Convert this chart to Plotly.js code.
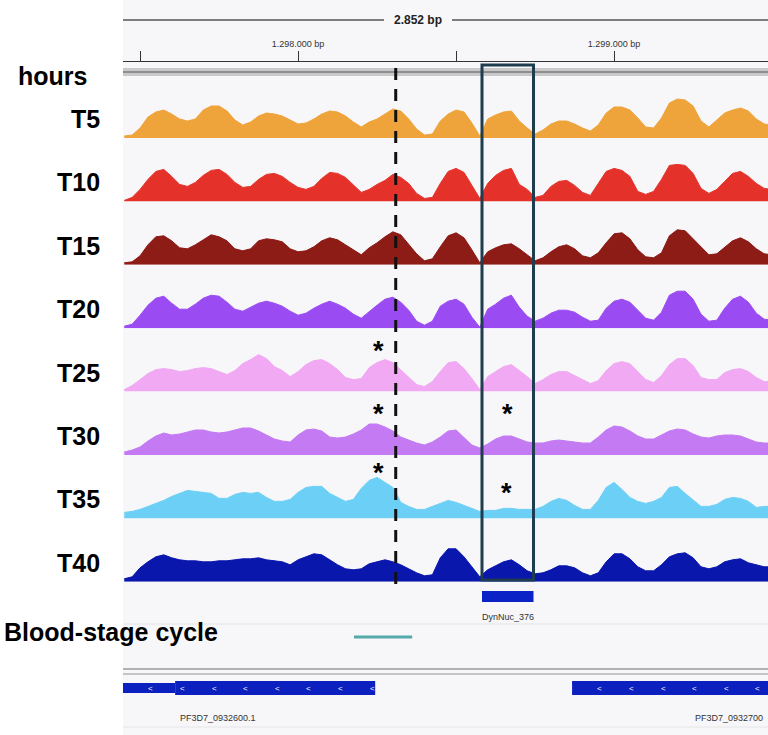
<!DOCTYPE html>
<html>
<head>
<meta charset="utf-8">
<script src="https://cdn.plot.ly/plotly-3.0.1.min.js"></script>
<style>
  html, body { margin: 0; padding: 0; background: #fff; }
  #chart { width: 768px; height: 735px; }
</style>
</head>
<body>
<div id="chart"></div>
<script>
/* Nucleosome occupancy tracks (IGV-style view), one filled profile per time point */

// bin positions along the chromosome (bp)
const positions = [
  1297450, 1297475, 1297500, 1297525, 1297550, 1297575, 1297600, 1297625, 1297650, 1297675,
  1297700, 1297725, 1297750, 1297775, 1297800, 1297825, 1297850, 1297875, 1297900, 1297925,
  1297950, 1297975, 1298000, 1298025, 1298050, 1298075, 1298100, 1298125, 1298150, 1298175,
  1298200, 1298225, 1298250, 1298275, 1298300, 1298325, 1298350, 1298375, 1298400, 1298425,
  1298450, 1298475, 1298500, 1298525, 1298550, 1298575, 1298600, 1298625, 1298650, 1298675,
  1298700, 1298725, 1298750, 1298775, 1298800, 1298825, 1298850, 1298875, 1298900, 1298925,
  1298950, 1298975, 1299000, 1299025, 1299050, 1299075, 1299100, 1299125, 1299150, 1299175,
  1299200, 1299225, 1299250, 1299275, 1299300, 1299325, 1299350, 1299375, 1299400, 1299425,
  1299450, 1299475, 1299500,
];

const trackNames = ["T5", "T10", "T15", "T20", "T25", "T30", "T35", "T40"];
const trackColors = ["#efa43b", "#e4312a", "#8d1b16", "#9a4cf2", "#f1a9f4", "#c47af2", "#6ccff6", "#0a17ad"];

const t5 = [2, 3, 10, 21, 26, 28, 24, 19, 17, 19, 28, 32, 32, 27, 18, 13, 16, 22, 25, 24,
  22, 18, 14, 15, 19, 24, 27, 26, 22, 16, 11, 16, 19, 24, 29, 27, 19, 9, 3, 4,
  17, 24, 28, 26, 15, 2, 19, 23, 26, 27, 17, 10, 4, 8, 14, 17, 17, 14, 10, 7,
  13, 25, 31, 31, 28, 20, 11, 10, 20, 35, 39, 38, 32, 17, 11, 18, 25, 28, 30, 27,
  19, 14, 13];
const t10 = [1, 4, 12, 22, 30, 32, 25, 17, 15, 19, 26, 31, 32, 27, 19, 14, 15, 22, 27, 28,
  25, 19, 14, 12, 15, 23, 29, 28, 24, 17, 9, 12, 17, 21, 27, 24, 18, 8, 3, 4,
  18, 30, 33, 29, 16, 3, 18, 26, 31, 33, 17, 12, 4, 6, 15, 20, 21, 16, 9, 6,
  18, 30, 33, 31, 25, 10, 7, 10, 22, 36, 37, 36, 28, 13, 8, 12, 20, 28, 30, 25,
  18, 13, 12];
const t15 = [2, 3, 9, 20, 28, 29, 24, 17, 16, 20, 25, 30, 28, 24, 16, 14, 16, 24, 26, 25,
  23, 16, 13, 14, 18, 24, 27, 25, 20, 15, 10, 17, 22, 28, 33, 30, 21, 11, 4, 6,
  18, 29, 32, 27, 15, 2, 13, 17, 20, 21, 16, 10, 4, 7, 13, 18, 20, 16, 9, 7,
  12, 22, 31, 32, 26, 15, 8, 7, 12, 29, 35, 34, 26, 17, 10, 11, 18, 24, 27, 23,
  16, 11, 10];
const t20 = [2, 4, 13, 23, 30, 32, 25, 19, 19, 24, 30, 33, 32, 26, 19, 17, 21, 25, 27, 25,
  22, 17, 13, 15, 20, 24, 27, 24, 20, 14, 10, 17, 23, 29, 31, 26, 18, 7, 3, 7,
  22, 27, 29, 24, 11, 1, 19, 24, 30, 33, 21, 12, 7, 10, 15, 18, 18, 16, 11, 7,
  8, 20, 27, 29, 26, 18, 10, 8, 16, 33, 37, 37, 29, 14, 7, 8, 20, 29, 32, 26,
  15, 9, 8];
const t25 = [2, 6, 12, 18, 22, 23, 22, 20, 21, 23, 24, 23, 20, 17, 21, 28, 32, 37, 33, 25,
  21, 15, 20, 27, 31, 32, 28, 22, 14, 12, 13, 24, 29, 32, 29, 22, 15, 7, 5, 10,
  20, 29, 30, 23, 13, 2, 15, 20, 25, 27, 21, 15, 8, 12, 17, 20, 20, 16, 12, 8,
  11, 21, 28, 30, 28, 20, 12, 9, 16, 27, 33, 33, 26, 14, 12, 12, 19, 22, 23, 20,
  14, 10, 10];
const t30 = [3, 5, 8, 14, 19, 22, 20, 21, 23, 25, 25, 23, 22, 23, 25, 27, 27, 24, 20, 16,
  14, 13, 20, 25, 26, 24, 18, 17, 18, 21, 25, 31, 31, 28, 24, 18, 15, 12, 10, 13,
  18, 24, 25, 18, 10, 7, 11, 16, 19, 19, 16, 13, 12, 12, 14, 15, 14, 13, 12, 12,
  18, 25, 29, 28, 24, 19, 16, 16, 20, 24, 26, 25, 21, 18, 17, 19, 20, 20, 19, 16,
  13, 12, 12];
const t35 = [6, 7, 9, 12, 15, 18, 22, 25, 28, 27, 26, 25, 20, 20, 24, 26, 25, 26, 21, 17,
  17, 19, 26, 31, 32, 32, 25, 21, 17, 19, 30, 38, 41, 36, 31, 16, 12, 9, 9, 12,
  15, 18, 16, 13, 10, 7, 8, 8, 10, 10, 9, 9, 9, 12, 17, 20, 18, 13, 9, 9,
  18, 31, 36, 29, 21, 17, 15, 17, 21, 31, 32, 25, 18, 12, 12, 14, 19, 21, 20, 17,
  11, 12, 12];
const t40 = [3, 5, 14, 20, 25, 27, 24, 22, 21, 21, 20, 20, 21, 21, 22, 23, 23, 24, 22, 21,
  20, 17, 22, 25, 28, 27, 22, 17, 13, 12, 13, 18, 20, 22, 20, 17, 13, 9, 6, 7,
  24, 33, 33, 25, 15, 5, 12, 16, 20, 22, 17, 11, 8, 9, 12, 16, 16, 14, 9, 6,
  9, 20, 28, 28, 23, 15, 11, 11, 17, 25, 28, 29, 24, 15, 13, 15, 20, 22, 23, 19,
  17, 15, 15];

// ruler
const rulerTicks = [1297500, 1298000, 1298500, 1299000];
const rulerLabels = ["", "1.298.000 bp", "", "1.299.000 bp"];
const spanLabel = "2.852 bp";

// annotation tracks
const featureNames = ["DynNuc_376"];
const featureStarts = [1298582];
const featureEnds = [1298745];
const cycleStarts = [1298177];
const cycleEnds = [1298361];
const geneNames = ["PF3D7_0932600.1", "PF3D7_0932700"];
const geneStarts = [1297250, 1298867];
const geneEnds = [1298244, 1300100];
const cdsStarts = [1297611, 1298867];
const markedLocus = 1298309; // dashed line
const asteriskTracks = ["T25", "T30", "T30", "T35", "T35"];
const asteriskPos = [1298253, 1298253, 1298664, 1298253, 1298658];

// ---- layout geometry (pixels in a 768 x 735 page) ----
const W = 768, H = 735;
const X0 = 1297446, X1 = 1299487;
const LEFT = 123;
const TRACK_TOP = 138, TRACK_PITCH = 63.4, TRACK_H = 55;
const FONT = "Liberation Sans, Arial, Helvetica, sans-serif";
const py = (p) => 1 - p / H;
const pxX = (p) => p / W;
const trackBase = (i) => TRACK_TOP + i * TRACK_PITCH;
// how far above the track baseline each asterisk sits (px)
const asteriskLift = [41, 41, 41, 45, 25];

const trackValues = [t5, t10, t15, t20, t25, t30, t35, t40];

const traces = trackNames.map((name, i) => ({
  type: "scatter",
  mode: "lines",
  name,
  x: positions,
  y: trackValues[i],
  xaxis: "x",
  yaxis: i === 0 ? "y" : "y" + (i + 1),
  fill: "tozeroy",
  fillcolor: trackColors[i],
  line: { color: trackColors[i], width: 1 },
  hoverinfo: "skip",
  showlegend: false,
}));

const layout = {
  width: W,
  height: H,
  margin: { t: 0, r: 0, b: 0, l: 0 },
  paper_bgcolor: "#ffffff",
  plot_bgcolor: "rgba(0,0,0,0)",
  showlegend: false,
  hovermode: false,
  font: { family: FONT, color: "#222" },
  xaxis: {
    domain: [LEFT / W, 1],
    range: [X0, X1],
    anchor: "free",
    position: py(61),
    side: "top",
    showline: true,
    linecolor: "#333",
    linewidth: 1,
    ticks: "outside",
    ticklen: 10,
    tickwidth: 1,
    tickcolor: "#333",
    tickvals: rulerTicks,
    ticktext: rulerLabels,
    tickfont: { size: 9, color: "#333", family: FONT },
    showgrid: false,
    zeroline: false,
    fixedrange: true,
  },
  shapes: [],
  annotations: [],
};

trackNames.forEach((name, i) => {
  const b = trackBase(i);
  layout[i === 0 ? "yaxis" : "yaxis" + (i + 1)] = {
    domain: [py(b), py(b - TRACK_H)],
    range: [0, TRACK_H],
    anchor: "x",
    visible: false,
    fixedrange: true,
  };
  layout.annotations.push({
    text: "<b>" + name + "</b>",
    xref: "paper", yref: "paper",
    x: pxX(102), xanchor: "right",
    y: py(b - 19), yanchor: "middle",
    showarrow: false,
    font: { size: 25, color: "#000", family: FONT },
  });
});

const shapes = layout.shapes;
const ann = layout.annotations;
const hline = (y, x0, x1, color, width, xref) => ({
  type: "line", xref: xref || "paper", yref: "paper",
  x0, x1, y0: py(y), y1: py(y),
  line: { color, width },
});

// track-panel background
shapes.push({
  type: "rect", xref: "paper", yref: "paper", layer: "below",
  x0: LEFT / W, x1: 1, y0: 0, y1: 1,
  fillcolor: "#f7f7f9", line: { width: 0 },
});

// span ruler with label gap
shapes.push(hline(20, LEFT / W, pxX(384), "#555", 1.5));
shapes.push(hline(20, pxX(452), 1, "#555", 1.5));
ann.push({
  text: "<b>" + spanLabel + "</b>", xref: "paper", yref: "paper",
  x: pxX(418), y: py(20), xanchor: "center", yanchor: "middle",
  showarrow: false, font: { size: 12, color: "#222", family: FONT },
});

// "hours" header row
shapes.push({
  type: "rect", xref: "paper", yref: "paper",
  x0: LEFT / W, x1: 1, y0: py(76), y1: py(68),
  fillcolor: "#c9c9c9", line: { width: 0 },
});
shapes.push(hline(72, LEFT / W, 1, "#8e8e8e", 2));
ann.push({
  text: "<b>hours</b>", xref: "paper", yref: "paper",
  x: pxX(16), xanchor: "left", y: py(76), yanchor: "middle",
  showarrow: false, font: { size: 25, color: "#000", family: FONT },
});

// dashed marker line
shapes.push({
  type: "line", xref: "x", yref: "paper",
  x0: markedLocus, x1: markedLocus, y0: py(584), y1: py(64),
  line: { color: "#111", width: 3, dash: "12px,9px" },
});

// box round the dynamic nucleosome
shapes.push({
  type: "rect", xref: "x", yref: "paper",
  x0: featureStarts[0], x1: featureEnds[0], y0: py(580), y1: py(65),
  fillcolor: "rgba(0,0,0,0)", line: { color: "#1e3d4f", width: 3 },
});

// asterisks
asteriskTracks.forEach((t, j) => {
  const i = trackNames.indexOf(t);
  ann.push({
    text: "<b>*</b>", xref: "x", yref: "paper",
    x: asteriskPos[j], y: py(trackBase(i) - asteriskLift[j]),
    xanchor: "center", yanchor: "middle", showarrow: false,
    font: { size: 27, color: "#000", family: FONT },
  });
});

// feature track
featureNames.forEach((n, j) => {
  shapes.push({
    type: "rect", xref: "x", yref: "paper",
    x0: featureStarts[j], x1: featureEnds[j], y0: py(602), y1: py(591),
    fillcolor: "#0b22c6", line: { width: 0 },
  });
  ann.push({
    text: n, xref: "x", yref: "paper",
    x: (featureStarts[j] + featureEnds[j]) / 2, y: py(617),
    xanchor: "center", yanchor: "middle", showarrow: false,
    font: { size: 9, color: "#333", family: FONT },
  });
});
shapes.push(hline(624, LEFT / W, 1, "#e3e3e6", 1));

// blood-stage cycle track
cycleStarts.forEach((s, j) => {
  shapes.push(hline(637, s, cycleEnds[j], "#55a9aa", 3, "x"));
});
ann.push({
  text: "<b>Blood-stage cycle</b>", xref: "paper", yref: "paper",
  x: pxX(2), xanchor: "left", y: py(632), yanchor: "middle",
  showarrow: false, font: { size: 25, color: "#000", family: FONT },
});

// gene track
shapes.push(hline(669, LEFT / W, 1, "#9a9a9a", 1.5));
shapes.push(hline(674, LEFT / W, 1, "#b4b4b4", 1.5));
shapes.push(hline(727, LEFT / W, 1, "#e6e6e8", 1));
geneNames.forEach((g, j) => {
  const s = Math.max(geneStarts[j], X0 - 5);
  const e = Math.min(geneEnds[j], X1 + 5);
  const c = Math.max(cdsStarts[j], s);
  if (c > s) {
    shapes.push({
      type: "rect", xref: "x", yref: "paper", x0: s, x1: c, y0: py(693), y1: py(683),
      fillcolor: "#0b20bf", line: { width: 0 },
    });
  }
  shapes.push({
    type: "rect", xref: "x", yref: "paper", x0: c, x1: e, y0: py(695), y1: py(681),
    fillcolor: "#0b20bf", line: { width: 0 },
  });
  // strand chevrons every 100 bp
  for (let p = Math.max(geneStarts[j], X0) + 88; p < Math.min(geneEnds[j], X1); p += 100) {
    ann.push({
      text: "<", xref: "x", yref: "paper", x: p, y: py(688),
      xanchor: "center", yanchor: "middle", showarrow: false,
      font: { size: 8, color: "#ffffff", family: FONT },
    });
  }
  const mid = (geneStarts[j] + geneEnds[j]) / 2;
  const atEdge = mid > X1 - 150;
  ann.push({
    text: g, xref: "x", yref: "paper",
    x: atEdge ? X1 - 10 : mid, xanchor: atEdge ? "right" : "center",
    y: py(718), yanchor: "middle", showarrow: false,
    font: { size: 9, color: "#333", family: FONT },
  });
});

Plotly.newPlot("chart", traces, layout, { staticPlot: true, displayModeBar: false });
</script>
</body>
</html>
